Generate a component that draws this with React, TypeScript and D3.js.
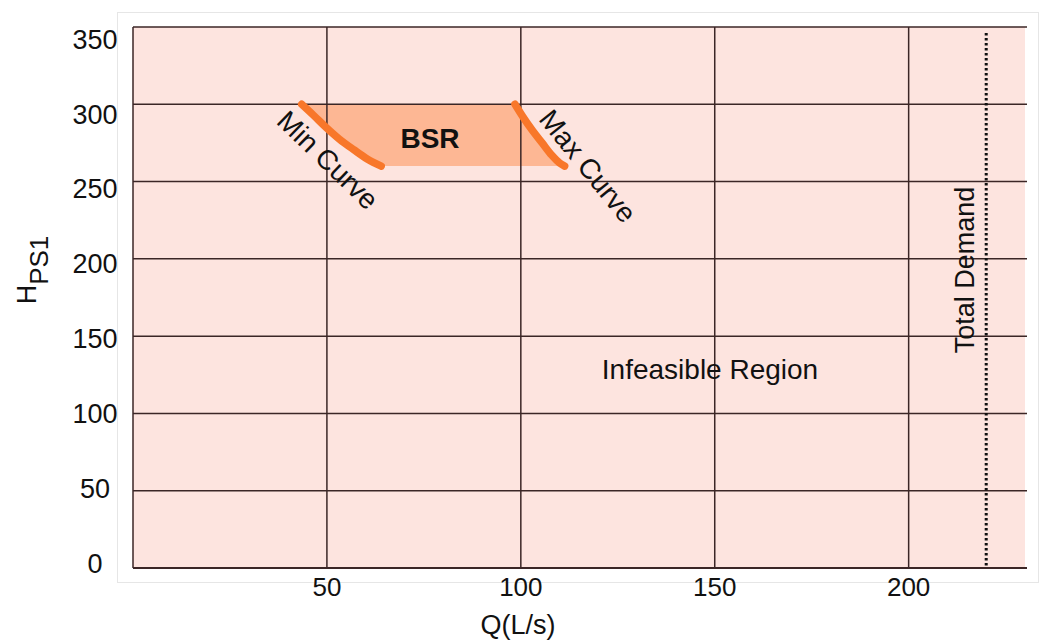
import { scaleLinear, line, curveMonotoneX } from "d3";

const width = 1046;
const height = 641;

const xTicks = [50, 100, 150, 200];
const yTicks = [0, 50, 100, 150, 200, 250, 300, 350];

// BSR boundary curves (Q in L/s, H in m)
const minCurveQ = [43.5, 46.5, 49.8, 53.2, 57, 60.5, 64];
const minCurveH = [300, 293, 285, 277.5, 270.5, 264.5, 260];
const maxCurveQ = [98.5, 100.5, 103, 105.5, 108, 110, 111.3];
const maxCurveH = [300, 292, 283, 275, 267, 262, 260];

const totalDemand = 220;

const margin = { left: 133, top: 27, right: 1025, bottom: 568 };
const font = "Liberation Sans, Arial, sans-serif";

const App = () => {
  const x = scaleLinear().domain([0, 230]).range([margin.left, margin.right]);
  const y = scaleLinear().domain([0, 350]).range([margin.bottom, margin.top]);
  // tick labels in the original sit a little inside the grid span
  const yLabel = scaleLinear().domain([0, 350]).range([563, 39]);

  const minPts = minCurveQ.map((q, i) => [q, minCurveH[i]] as [number, number]);
  const maxPts = maxCurveQ.map((q, i) => [q, maxCurveH[i]] as [number, number]);

  const curve = line<[number, number]>()
    .x((d) => x(d[0]))
    .y((d) => y(d[1]))
    .curve(curveMonotoneX);

  // BSR polygon: min curve down, bottom edge, max curve back up
  const bsr = curve(minPts) + "L" + curve([...maxPts].reverse())!.slice(1) + "Z";

  const gridColor = "#3b2626";

  return (
    <svg width={width} height={height} style={{ position: "absolute", left: 0, top: 0 }}>
      <rect x={0} y={0} width={width} height={height} fill="#fff" />
      <rect x={117.5} y={12.5} width={921} height={570} fill="#fff" stroke="#e6e6e6" />
      <rect
        x={margin.left}
        y={margin.top}
        width={margin.right - margin.left}
        height={margin.bottom - margin.top}
        fill="#fde4df"
      />
      <path d={bsr} fill="#fdb794" />

      {yTicks.map((t) => (
        <g key={t}>
          {t > 0 && (
            <line x1={margin.left} x2={margin.right + 2} y1={y(t)} y2={y(t)} stroke={gridColor} strokeWidth={1.5} />
          )}
          <text x={95} y={yLabel(t)} dy="0.36em" textAnchor="middle" fontFamily={font} fontSize={27} fill="#111">
            {t}
          </text>
        </g>
      ))}
      {xTicks.map((t) => (
        <g key={t}>
          <line x1={x(t)} x2={x(t)} y1={margin.top} y2={margin.bottom} stroke={gridColor} strokeWidth={1.5} />
          <text x={x(t)} y={596} textAnchor="middle" fontFamily={font} fontSize={26} fill="#111">
            {t}
          </text>
        </g>
      ))}
      <line x1={margin.left} x2={margin.left} y1={margin.top} y2={margin.bottom} stroke={gridColor} strokeWidth={1.5} />
      <line x1={margin.left} x2={margin.right + 2} y1={margin.bottom} y2={margin.bottom} stroke={gridColor} strokeWidth={2} />

      <line
        x1={x(totalDemand)}
        x2={x(totalDemand)}
        y1={y(350) + 6}
        y2={margin.bottom - 2}
        stroke="#111"
        strokeWidth={3}
        strokeDasharray="2.5 2.5"
      />

      <path d={curve(minPts) ?? ""} fill="none" stroke="#f8772a" strokeWidth={7.5} strokeLinecap="round" />
      <path d={curve(maxPts) ?? ""} fill="none" stroke="#f8772a" strokeWidth={7.5} strokeLinecap="round" />

      <text x={430} y={148} textAnchor="middle" fontFamily={font} fontSize={28} fontWeight="bold" fill="#111">
        BSR
      </text>
      <text
        transform="translate(328,160) rotate(44)"
        textAnchor="middle"
        dy="0.35em"
        fontFamily={font}
        fontSize={28}
        fill="#111"
      >
        Min Curve
      </text>
      <text
        transform="translate(588,166) rotate(51)"
        textAnchor="middle"
        dy="0.35em"
        fontFamily={font}
        fontSize={28}
        fill="#111"
      >
        Max Curve
      </text>
      <text x={710} y={379} textAnchor="middle" fontFamily={font} fontSize={28} fill="#111">
        Infeasible Region
      </text>
      <text
        transform="translate(965,270) rotate(-90)"
        textAnchor="middle"
        dy="0.35em"
        fontFamily={font}
        fontSize={27}
        fill="#111"
      >
        Total Demand
      </text>

      <text x={518} y={634} textAnchor="middle" fontFamily={font} fontSize={27} fill="#111">
        Q(L/s)
      </text>
      <text transform="translate(36,270) rotate(-90)" textAnchor="middle" fontFamily={font} fill="#111">
        <tspan fontSize={27}>H</tspan>
        <tspan fontSize={26} dy={12}>PS1</tspan>
      </text>
    </svg>
  );
};

export default App;
